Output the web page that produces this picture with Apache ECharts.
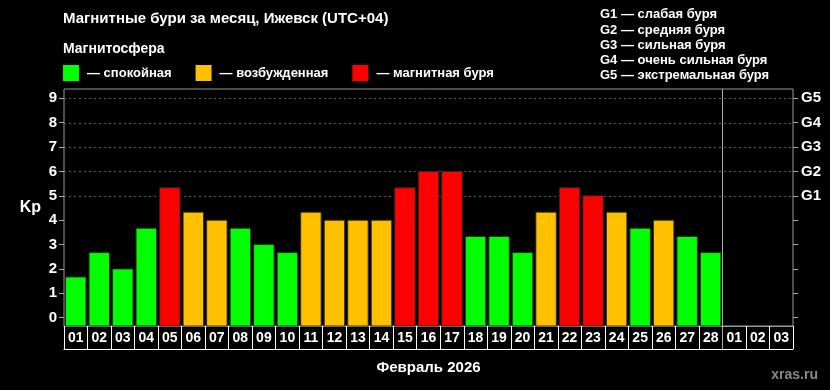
<!DOCTYPE html>
<html><head><meta charset="utf-8">
<script src="https://cdn.jsdelivr.net/npm/echarts@6/dist/echarts.min.js"></script>
<style>html,body{margin:0;padding:0;background:#000;}#c{width:830px;height:390px;}</style>
</head><body><div id="c"></div>
<script>
// ---- data ----
const dayLabels = ['01','02','03','04','05','06','07','08','09','10','11','12','13','14','15','16','17','18','19','20','21','22','23','24','25','26','27','28','01','02','03'];
const kpValues = [1.67,2.67,2,3.67,5.33,4.33,4,3.67,3,2.67,4.33,4,4,4,5.33,6,6,3.33,3.33,2.67,4.33,5.33,5,4.33,3.67,4,3.33,2.67];
const yTicks = [0,1,2,3,4,5,6,7,8,9];
const gLevels = [5,6,7,8,9];
const gLabels = ['G1','G2','G3','G4','G5'];
const gridLevels = [5,6,7,8,9];
const legendNames = ['— спокойная','— возбужденная','— магнитная буря'];
const legendColors = ['#00ff00','#ffc000','#ff0000'];
const monthBoundaryIndex = 27;
const gText = ['G1 — слабая буря','G2 — средняя буря','G3 — сильная буря','G4 — очень сильная буря','G5 — экстремальная буря'];

const yMin = -0.34, yMax = 9.38;
function colorFor(v){ return v >= 5 ? legendColors[2] : (v >= 4 ? legendColors[1] : legendColors[0]); }

const chart = echarts.init(document.getElementById('c'), null, {renderer:'canvas'});
const FONT = 'Liberation Sans, Arial, sans-serif';
const option = {
  backgroundColor:'#000',
  animation:false,
  textStyle:{fontFamily:FONT},
  title:[
    {text:'Магнитные бури за месяц, Ижевск (UTC+04)', left:63, top:11, padding:0,
     textStyle:{color:'#fff', fontSize:15, fontWeight:'bold', lineHeight:15, fontFamily:FONT}},
    {text:'Магнитосфера', left:63, top:42, padding:0,
     textStyle:{color:'#fff', fontSize:14, fontWeight:'bold', lineHeight:14, fontFamily:FONT}},
    {text:gText.join('\n'), left:600, top:7, padding:0,
     textStyle:{color:'#fff', fontSize:13, fontWeight:'bold', lineHeight:15.3, fontFamily:FONT}},
    {text:'xras.ru', right:12, top:368, padding:0,
     textStyle:{color:'#8a8a8a', fontSize:14, fontWeight:'bold', lineHeight:14, fontFamily:FONT}}
  ],
  legend:{
    left:63, top:65, padding:0, itemWidth:16, itemHeight:16, itemGap:24,
    icon:'rect', selectedMode:false,
    data:legendNames,
    textStyle:{color:'#fff', fontSize:13, fontWeight:'bold', fontFamily:FONT, padding:[0,0,0,3]}
  },
  grid:{left:64, right:37, top:89, bottom:64, show:true, borderColor:'#999', borderWidth:1, backgroundColor:'transparent'},
  xAxis:[
    {type:'category', data:dayLabels, boundaryGap:true,
     axisLine:{show:true, onZero:false, lineStyle:{color:'#999'}},
     axisTick:{show:true, interval:0, length:23, lineStyle:{color:'#fff'}},
     axisLabel:{interval:0, color:'#fff', fontSize:14, fontWeight:'bold', margin:5, fontFamily:FONT},
     splitLine:{show:false}},
    {type:'category', data:dayLabels, position:'bottom', offset:23, gridIndex:0,
     axisLine:{show:true, onZero:false, lineStyle:{color:'#fff'}},
     axisTick:{show:false}, axisLabel:{show:false},
     name:'Февраль 2026', nameLocation:'middle', nameGap:11,
     nameTextStyle:{color:'#fff', fontSize:15, fontWeight:'bold', fontFamily:FONT}}
  ],
  yAxis:[
    {type:'value', min:yMin, max:yMax, position:'left',
     axisLine:{show:false},
     axisTick:{show:true, length:5, customValues:yTicks, lineStyle:{color:'#aaa'}},
     axisLabel:{color:'#fff', fontSize:15, fontWeight:'bold', margin:7, customValues:yTicks, fontFamily:FONT},
     splitLine:{show:false},
     name:'Kp', nameLocation:'middle', nameRotate:0, nameGap:23,
     nameTextStyle:{color:'#fff', fontSize:16, fontWeight:'bold', fontFamily:FONT}},
    {type:'value', min:yMin, max:yMax, position:'right',
     axisLine:{show:false},
     axisTick:{show:true, length:5, customValues:yTicks, lineStyle:{color:'#aaa'}},
     axisLabel:{color:'#fff', fontSize:15, fontWeight:'bold', margin:8, customValues:gLevels,
       formatter:function(v){ const k = gLevels.indexOf(Math.round(v)); return k>=0 ? gLabels[k] : ''; }, fontFamily:FONT},
     splitLine:{show:false}}
  ],
  series:[
    {type:'custom', name:'gridlines', z:1, silent:true, data:gridLevels.map(v=>[0,v]),
     renderItem:function(params, api){
       const cs = params.coordSys;
       const p = api.coord([0, api.value(1)]);
       const y = Math.round(p[1])+0.5;
       return {type:'line', shape:{x1:cs.x, y1:y, x2:cs.x+cs.width, y2:y},
               style:{stroke:'#5a5a5a', lineWidth:1, lineDash:[2,3]}};
     }},
    {type:'custom', name:'kp', z:3, data:kpValues.map((v,i)=>[i,v]),
     renderItem:function(params, api){
       const i = api.value(0), v = api.value(1);
       const top = api.coord([i, v]);
       const base = api.coord([i, yMin]);
       const bw = api.size([1,0])[0]*0.87;
       return {type:'rect', shape:{x:top[0]-bw/2, y:top[1], width:bw, height:base[1]-top[1]},
               style:{fill:colorFor(v), stroke:'rgba(40,40,40,0.9)', lineWidth:1}};
     }},
    {type:'custom', name:'divider', z:4, data:[[monthBoundaryIndex]],
     renderItem:function(params, api){
       const i = api.value(0);
       const half = api.size([1,0])[0]/2;
       const a = api.coord([i, yMax]);
       const b = api.coord([i, yMin]);
       const x = Math.round(a[0]+half)+0.5;
       return {type:'line', shape:{x1:x, y1:a[1], x2:x, y2:b[1]+23}, style:{stroke:'#aaa', lineWidth:1}};
     }},
    ...legendNames.map((n,k)=>({type:'bar', name:n, data:[], itemStyle:{color:legendColors[k]}}))
  ]
};
chart.setOption(option);
</script></body></html>
